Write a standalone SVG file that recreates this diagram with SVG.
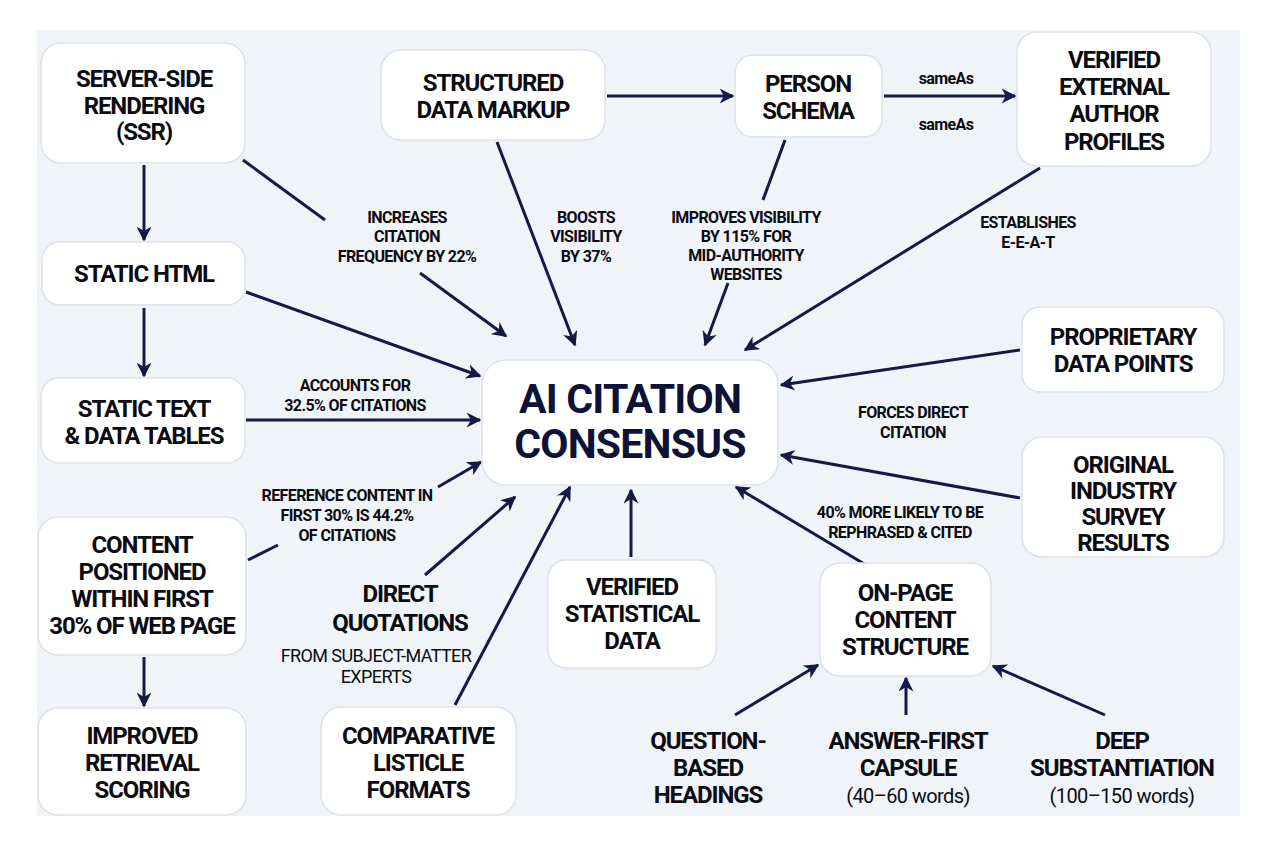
<svg xmlns="http://www.w3.org/2000/svg" width="1264" height="847" viewBox="0 0 1264 847">
<defs>
<marker id="ah" viewBox="0 0 10 10" refX="9" refY="5" markerWidth="5" markerHeight="5" orient="auto" markerUnits="strokeWidth"><path d="M0,0 L10,5 L0,10 L3,5 z" fill="#141a45"/></marker>
</defs>
<style>
.box{fill:#fff;stroke:#dde2e8;stroke-width:1.5}
.t{font-family:Roboto,"Liberation Sans",sans-serif;font-weight:700;font-size:24px;fill:#0b0b12;text-anchor:middle;letter-spacing:-1.1px}
.r{font-family:Roboto,"Liberation Sans",sans-serif;font-weight:400;font-size:20px;fill:#0b0b12;text-anchor:middle;letter-spacing:-0.6px}
.l{font-family:Roboto,"Liberation Sans",sans-serif;font-weight:700;font-size:16px;fill:#0b0b12;text-anchor:middle;letter-spacing:-0.6px}
.big{font-family:Roboto,"Liberation Sans",sans-serif;font-weight:700;font-size:41px;fill:#0d1236;text-anchor:middle;letter-spacing:-0.8px}
.e{stroke:#141a45;stroke-width:3;fill:none}
.a{marker-end:url(#ah)}
</style>
<rect width="1264" height="847" fill="#fff"/>
<rect x="37" y="30" width="1203" height="786" fill="#f0f4f8"/>
<g id="connectors">
<line class="e a" x1="144" y1="165" x2="144" y2="240"/>
<line class="e a" x1="144" y1="308" x2="144" y2="376"/>
<line class="e a" x1="144" y1="657" x2="144" y2="706"/>
<line class="e" x1="243" y1="160" x2="325" y2="220"/>
<line class="e a" x1="420" y1="273" x2="506" y2="336"/>
<line class="e a" x1="246" y1="292" x2="480" y2="376"/>
<line class="e a" x1="246" y1="420" x2="480" y2="420"/>
<line class="e" x1="248" y1="560" x2="278" y2="545"/>
<line class="e a" x1="438" y1="487" x2="481" y2="462"/>
<line class="e a" x1="425" y1="575" x2="515" y2="497"/>
<line class="e a" x1="455" y1="705" x2="570" y2="487"/>
<line class="e a" x1="631" y1="557" x2="631" y2="490"/>
<line class="e a" x1="866" y1="565" x2="736" y2="487"/>
<line class="e a" x1="1020" y1="498" x2="781" y2="455"/>
<line class="e a" x1="1020" y1="350" x2="781" y2="385"/>
<line class="e a" x1="1040" y1="168" x2="745" y2="350"/>
<line class="e" x1="785" y1="140" x2="763" y2="200"/>
<line class="e a" x1="728" y1="283" x2="705" y2="345"/>
<line class="e a" x1="497" y1="142" x2="575" y2="345"/>
<line class="e a" x1="607" y1="96" x2="733" y2="96"/>
<line class="e a" x1="884" y1="96" x2="1015" y2="96"/>
<line class="e a" x1="735" y1="715" x2="818" y2="665"/>
<line class="e a" x1="906" y1="715" x2="906" y2="678"/>
<line class="e a" x1="1105" y1="715" x2="993" y2="666"/>
<text class="l" x="407" y="223">INCREASES</text><text class="l" x="407" y="242">CITATION</text><text class="l" x="407" y="262">FREQUENCY BY 22%</text>
<text class="l" x="355" y="391">ACCOUNTS FOR</text><text class="l" x="355" y="411">32.5% OF CITATIONS</text>
<text class="l" x="347" y="501">REFERENCE CONTENT IN</text><text class="l" x="347" y="521">FIRST 30% IS 44.2%</text><text class="l" x="347" y="541">OF CITATIONS</text>
<text class="l" x="586" y="223">BOOSTS</text><text class="l" x="586" y="242">VISIBILITY</text><text class="l" x="586" y="262">BY 37%</text>
<text class="l" x="746" y="223">IMPROVES VISIBILITY</text><text class="l" x="746" y="242">BY 115% FOR</text><text class="l" x="746" y="261">MID-AUTHORITY</text><text class="l" x="746" y="280">WEBSITES</text>
<text class="l" x="946" y="84">sameAs</text><text class="l" x="946" y="130">sameAs</text>
<text class="l" x="1028" y="228">ESTABLISHES</text><text class="l" x="1028" y="248">E-E-A-T</text>
<text class="l" x="913" y="418">FORCES DIRECT</text><text class="l" x="913" y="438">CITATION</text>
<text class="l" x="900" y="518">40% MORE LIKELY TO BE</text><text class="l" x="900" y="538">REPHRASED &amp; CITED</text>
</g>
<g id="ssr"><rect class="box" x="41" y="43" width="204" height="120" rx="20"/><text class="t" x="144" y="87">SERVER-SIDE</text><text class="t" x="144" y="114">RENDERING</text><text class="t" x="144" y="140">(SSR)</text></g>
<g id="static-html"><rect class="box" x="42" y="242" width="203" height="63" rx="18"/><text class="t" x="144" y="282">STATIC HTML</text></g>
<g id="static-text"><rect class="box" x="41" y="378" width="204" height="85" rx="18"/><text class="t" x="144" y="417">STATIC TEXT</text><text class="t" x="144" y="444">&amp; DATA TABLES</text></g>
<g id="content-positioned"><rect class="box" x="38" y="517" width="208" height="138" rx="20"/><text class="t" x="142" y="553">CONTENT</text><text class="t" x="142" y="580">POSITIONED</text><text class="t" x="142" y="607">WITHIN FIRST</text><text class="t" x="142" y="634">30% OF WEB PAGE</text></g>
<g id="improved-retrieval"><rect class="box" x="38" y="708" width="208" height="107" rx="20"/><text class="t" x="142" y="744">IMPROVED</text><text class="t" x="142" y="771">RETRIEVAL</text><text class="t" x="142" y="798">SCORING</text></g>
<g id="structured-data"><rect class="box" x="381" y="50" width="224" height="90" rx="20"/><text class="t" x="493" y="91">STRUCTURED</text><text class="t" x="493" y="118">DATA MARKUP</text></g>
<g id="person-schema"><rect class="box" x="735" y="55" width="147" height="82" rx="18"/><text class="t" x="808" y="92">PERSON</text><text class="t" x="808" y="119">SCHEMA</text></g>
<g id="verified-profiles"><rect class="box" x="1017" y="32" width="194" height="134" rx="20"/><text class="t" x="1114" y="68">VERIFIED</text><text class="t" x="1114" y="95">EXTERNAL</text><text class="t" x="1114" y="122">AUTHOR</text><text class="t" x="1114" y="150">PROFILES</text></g>
<g id="proprietary"><rect class="box" x="1022" y="307" width="202" height="85" rx="18"/><text class="t" x="1123" y="345">PROPRIETARY</text><text class="t" x="1123" y="372">DATA POINTS</text></g>
<g id="survey"><rect class="box" x="1022" y="437" width="202" height="120" rx="20"/><text class="t" x="1123" y="473">ORIGINAL</text><text class="t" x="1123" y="499">INDUSTRY</text><text class="t" x="1123" y="525">SURVEY</text><text class="t" x="1123" y="551">RESULTS</text></g>
<g id="center"><rect class="box" x="482" y="360" width="296" height="125" rx="24"/><text class="big" x="630" y="413">AI CITATION</text><text class="big" x="630" y="458">CONSENSUS</text></g>
<g id="verified-stat"><rect class="box" x="548" y="560" width="168" height="108" rx="18"/><text class="t" x="632" y="595">VERIFIED</text><text class="t" x="632" y="622">STATISTICAL</text><text class="t" x="632" y="649">DATA</text></g>
<g id="on-page"><rect class="box" x="820" y="563" width="171" height="113" rx="20"/><text class="t" x="905" y="601">ON-PAGE</text><text class="t" x="905" y="628">CONTENT</text><text class="t" x="905" y="655">STRUCTURE</text></g>
<g id="comparative"><rect class="box" x="321" y="707" width="195" height="108" rx="20"/><text class="t" x="418" y="744">COMPARATIVE</text><text class="t" x="418" y="771">LISTICLE</text><text class="t" x="418" y="798">FORMATS</text></g>
<g id="direct-quotations"><text class="t" x="400" y="602">DIRECT</text><text class="t" x="400" y="631">QUOTATIONS</text><text class="r" x="376" y="662" style="font-size:18px">FROM SUBJECT-MATTER</text><text class="r" x="376" y="683" style="font-size:18px">EXPERTS</text></g>
<g id="question-based"><text class="t" x="708" y="749">QUESTION-</text><text class="t" x="708" y="776">BASED</text><text class="t" x="708" y="803">HEADINGS</text></g>
<g id="answer-first"><text class="t" x="908" y="749">ANSWER-FIRST</text><text class="t" x="908" y="776">CAPSULE</text><text class="r" x="908" y="803">(40–60 words)</text></g>
<g id="deep"><text class="t" x="1122" y="749">DEEP</text><text class="t" x="1122" y="776">SUBSTANTIATION</text><text class="r" x="1122" y="803">(100–150 words)</text></g>
</svg>
